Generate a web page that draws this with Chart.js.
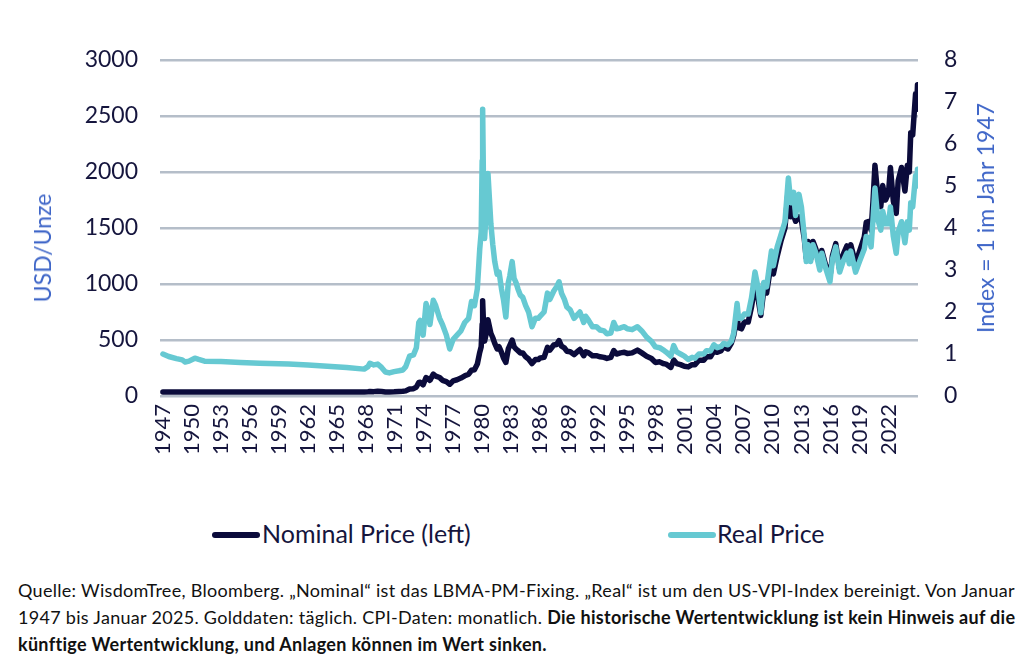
<!DOCTYPE html>
<html>
<head>
<meta charset="utf-8">
<script src="https://cdn.jsdelivr.net/npm/chart.js@4.4.1/dist/chart.umd.min.js"></script>
<style>
	body { margin: 0; background: #fff; width: 1024px; height: 668px; position: relative; overflow: hidden; font-family: Lato, sans-serif; }
	#goldChart { position: absolute; left: 0; top: 0; }
	.axisTitle { position: absolute; color: #3f66c8; font-size: 23px; white-space: nowrap; transform: translate(-50%, -50%) rotate(-90deg); }
	.legendLine { position: absolute; height: 6px; border-radius: 3px; }
	.legendText { position: absolute; font-size: 25px; color: #15153d; white-space: nowrap; }
	#note { position: absolute; left: 18px; top: 577px; font-size: 18px; letter-spacing: 0.3px; line-height: 27px; color: #111; }
	#note div { white-space: nowrap; }
</style>
</head>
<body>
<canvas id="goldChart" width="1024" height="470"></canvas>

<div class="axisTitle" style="left:42px; top:248px;">USD/Unze</div>
<div class="axisTitle" style="left:985px; top:218px;">Index = 1 im Jahr 1947</div>

<div class="legendLine" style="left:212px; top:532px; width:48px; background:#0b0b3b;"></div>
<div class="legendText" style="left:262px; top:518px;">Nominal Price (left)</div>
<div class="legendLine" style="left:668px; top:532px; width:48px; background:#66c9d2;"></div>
<div class="legendText" style="left:717px; top:518px;">Real Price</div>

<div id="note">
	<div>Quelle: WisdomTree, Bloomberg. „Nominal“ ist das LBMA-PM-Fixing. „Real“ ist um den US-VPI-Index bereinigt. Von Januar</div>
	<div>1947 bis Januar 2025. Golddaten: täglich. CPI-Daten: monatlich. <b>Die historische Wertentwicklung ist kein Hinweis auf die</b></div>
	<div><b>künftige Wertentwicklung, und Anlagen können im Wert sinken.</b></div>
</div>

<script>
	// decimal years of the sampled points
	var dates = [
		1947.0, 1947.6, 1948.4, 1949.0, 1949.3, 1949.7, 1950.3, 1950.7, 1951.3, 1953.0,
		1955.0, 1957.0, 1960.0, 1962.0, 1964.0, 1966.0, 1967.8, 1968.2, 1968.4, 1968.8,
		1969.2, 1969.6, 1970.0, 1970.4, 1970.9, 1971.4, 1971.8, 1972.1, 1972.5, 1972.9,
		1973.2, 1973.45, 1973.6, 1973.9, 1974.2, 1974.4, 1974.6, 1974.95, 1975.2, 1975.6,
		1975.9, 1976.3, 1976.65, 1977.0, 1977.4, 1977.8, 1978.2, 1978.6, 1978.9, 1979.2,
		1979.5, 1979.75, 1979.9, 1980.0, 1980.05, 1980.15, 1980.25, 1980.45, 1980.6, 1980.75,
		1980.9, 1981.1, 1981.3, 1981.55, 1981.75, 1982.0, 1982.2, 1982.45, 1982.7, 1982.85,
		1983.1, 1983.3, 1983.5, 1983.7, 1983.95, 1984.2, 1984.5, 1984.8, 1985.15, 1985.5,
		1985.8, 1986.0, 1986.4, 1986.75, 1987.0, 1987.4, 1987.7, 1987.95, 1988.2, 1988.5,
		1988.75, 1989.1, 1989.5, 1989.9, 1990.1, 1990.5, 1990.7, 1991.0, 1991.4, 1991.8,
		1992.2, 1992.6, 1992.9, 1993.3, 1993.6, 1993.9, 1994.3, 1994.7, 1995.0, 1995.5,
		1996.05, 1996.5, 1997.0, 1997.5, 1997.9, 1998.35, 1998.7, 1999.0, 1999.5, 1999.8,
		2000.1, 2000.5, 2000.9, 2001.3, 2001.7, 2002.0, 2002.4, 2002.9, 2003.2, 2003.6,
		2003.95, 2004.3, 2004.7, 2004.95, 2005.4, 2005.75, 2006.0, 2006.35, 2006.5, 2006.8,
		2007.1, 2007.5, 2007.85, 2008.2, 2008.5, 2008.8, 2009.1, 2009.4, 2009.9, 2010.1,
		2010.5, 2010.9, 2011.3, 2011.65, 2011.9, 2012.2, 2012.4, 2012.75, 2013.0, 2013.3,
		2013.5, 2013.7, 2013.95, 2014.2, 2014.5, 2014.9, 2015.1, 2015.5, 2015.95, 2016.2,
		2016.55, 2016.95, 2017.3, 2017.7, 2017.95, 2018.1, 2018.6, 2019.0, 2019.5, 2019.7,
		2020.0, 2020.2, 2020.4, 2020.6, 2020.9, 2021.2, 2021.4, 2021.7, 2022.0, 2022.2,
		2022.5, 2022.8, 2023.0, 2023.35, 2023.7, 2023.95, 2024.15, 2024.3, 2024.5, 2024.8,
		2024.9, 2025.0
	];

	// USD per ounce, left axis
	var nominalUsd = [
		35, 35, 35, 35, 35, 35, 35, 35, 35, 35,
		35, 35, 35, 35, 35, 35, 35, 38, 40, 39,
		43, 40, 35, 35, 37, 40, 42, 46, 63, 65,
		80, 120, 122, 100, 165, 155, 140, 195, 178, 165,
		140, 128, 105, 135, 145, 160, 180, 195, 230, 235,
		285, 390, 440, 640, 850, 620, 490, 570, 680, 620,
		560, 520, 470, 420, 440, 390, 340, 300, 420, 450,
		500, 440, 420, 405, 385, 385, 350, 330, 290, 325,
		325, 340, 345, 435, 410, 455, 460, 495, 445, 430,
		400, 395, 370, 400, 415, 360, 395, 385, 360, 360,
		350, 345, 335, 345, 405, 375, 385, 390, 380, 385,
		410, 385, 355, 335, 300, 305, 290, 285, 255, 320,
		290, 280, 265, 260, 280, 280, 320, 320, 350, 350,
		400, 390, 405, 440, 420, 470, 540, 710, 610, 600,
		660, 660, 800, 990, 880, 720, 940, 920, 1200, 1090,
		1250, 1390, 1500, 1860, 1600, 1610, 1560, 1600, 1570, 1400,
		1230, 1380, 1220, 1380, 1310, 1160, 1300, 1170, 1060, 1250,
		1360, 1130, 1260, 1340, 1250, 1350, 1180, 1290, 1420, 1550,
		1560, 1480, 1740, 2060, 1780, 1690, 1880, 1750, 1810, 2040,
		1740, 1630, 1920, 2040, 1830, 2060, 2000, 2350, 2330, 2700,
		2560, 2780
	];

	// inflation adjusted, index = 1 in 1947, right axis
	var realIndex = [
		1.00, 0.94, 0.89, 0.86, 0.81, 0.83, 0.90, 0.87, 0.83, 0.82,
		0.80, 0.78, 0.76, 0.74, 0.71, 0.68, 0.64, 0.70, 0.78, 0.74,
		0.76, 0.68, 0.57, 0.55, 0.58, 0.60, 0.62, 0.70, 0.95, 0.98,
		1.15, 1.75, 1.80, 1.45, 2.20, 2.05, 1.70, 2.28, 2.15, 1.85,
		1.70, 1.45, 1.12, 1.35, 1.45, 1.55, 1.75, 1.85, 2.25, 2.15,
		2.55, 3.50, 3.90, 5.60, 6.83, 4.80, 3.75, 4.50, 5.30, 4.70,
		4.10, 3.60, 3.20, 2.90, 2.95, 2.55, 2.30, 1.88, 2.70, 2.85,
		3.20, 2.80, 2.70, 2.55, 2.40, 2.35, 2.15, 2.00, 1.65, 1.85,
		1.85, 1.90, 2.00, 2.45, 2.30, 2.50, 2.60, 2.72, 2.45, 2.30,
		2.12, 2.05, 1.85, 1.95, 2.00, 1.75, 1.90, 1.80, 1.65, 1.65,
		1.57, 1.55, 1.48, 1.50, 1.75, 1.60, 1.62, 1.65, 1.60, 1.58,
		1.65, 1.55, 1.40, 1.30, 1.17, 1.15, 1.10, 1.05, 0.95, 1.20,
		1.05, 1.00, 0.95, 0.87, 0.92, 0.90, 1.00, 1.00, 1.08, 1.07,
		1.22, 1.15, 1.18, 1.25, 1.22, 1.30, 1.50, 2.20, 1.85, 1.85,
		1.95, 1.95, 2.35, 2.95, 2.60, 1.98, 2.70, 2.60, 3.45, 3.10,
		3.55, 3.85, 4.15, 5.19, 4.60, 4.85, 4.30, 4.80, 4.50, 3.80,
		3.20, 3.60, 3.20, 3.60, 3.40, 3.00, 3.40, 3.05, 2.72, 3.25,
		3.55, 2.95, 3.20, 3.40, 3.15, 3.45, 2.95, 3.20, 3.50, 3.80,
		3.75, 3.55, 4.20, 4.95, 4.20, 3.95, 4.40, 4.10, 4.10, 4.50,
		3.80, 3.40, 3.90, 4.15, 3.65, 4.15, 3.95, 4.60, 4.50, 5.25,
		5.00, 5.40
	];

	var yearTicks = [1947, 1950, 1953, 1956, 1959, 1962, 1965, 1968, 1971, 1974, 1977, 1980, 1983, 1986, 1989, 1992, 1995, 1998, 2001, 2004, 2007, 2010, 2013, 2016, 2019, 2022];
	var usdTicks = [0, 500, 1000, 1500, 2000, 2500, 3000];
	var indexTicks = [0, 1, 2, 3, 4, 5, 6, 7, 8];

	var NAVY = '#0b0b3b';
	var CYAN = '#66c9d2';
	var tickFont = { family: 'Lato', size: 23 };
	var tickColor = '#15153d';

	var nominalPoints = dates.map(function(d, i){ return { x: d, y: nominalUsd[i] }; });
	var realPoints = dates.map(function(d, i){ return { x: d, y: realIndex[i] }; });

	function plainLabel(v){ return String(v); }

	var ctx = document.getElementById('goldChart').getContext('2d');
	new Chart(ctx, {
		type: 'line',
		data: {
			datasets: [{
				label: 'Nominal Price (left)',
				data: nominalPoints,
				yAxisID: 'y',
				borderColor: NAVY,
				borderWidth: 5.5,
				pointRadius: 0,
				borderJoinStyle: 'round',
				borderCapStyle: 'round',
				order: 1
			}, {
				label: 'Real Price',
				data: realPoints,
				yAxisID: 'y1',
				borderColor: CYAN,
				borderWidth: 5.5,
				pointRadius: 0,
				borderJoinStyle: 'round',
				borderCapStyle: 'round',
				order: 0
			}]
		},
		options: {
			responsive: false,
			animation: false,
			devicePixelRatio: 1,
			layout: { padding: { top: 60, bottom: 0, left: 0, right: 0 } },
			plugins: { legend: { display: false }, tooltip: { enabled: false } },
			scales: {
				x: {
					type: 'linear',
					min: 1946.7,
					max: 2025.05,
					grid: { display: false, drawTicks: false },
					border: { display: false },
					afterBuildTicks: function(scale){
						scale.ticks = yearTicks.map(function(v){ return { value: v }; });
					},
					afterFit: function(scale){ scale.height = 74; },
					ticks: {
						autoSkip: false,
						minRotation: 90,
						maxRotation: 90,
						padding: 8,
						font: { family: 'Lato', size: 22 },
						color: tickColor,
						callback: plainLabel
					}
				},
				y: {
					position: 'left',
					min: 0,
					max: 3000,
					afterBuildTicks: function(scale){
						scale.ticks = usdTicks.map(function(v){ return { value: v }; });
					},
					afterFit: function(scale){ scale.width = 160; },
					grid: { color: '#b5bec9', lineWidth: 2.5, drawTicks: false },
					border: { display: false },
					ticks: { padding: 22, font: tickFont, color: tickColor, callback: plainLabel }
				},
				y1: {
					position: 'right',
					min: 0,
					max: 8,
					afterBuildTicks: function(scale){
						scale.ticks = indexTicks.map(function(v){ return { value: v }; });
					},
					afterFit: function(scale){ scale.width = 106; },
					grid: { display: false, drawTicks: false },
					border: { display: false },
					ticks: { padding: 26, font: tickFont, color: tickColor, callback: plainLabel }
				}
			}
		}
	});
</script>
</body>
</html>
